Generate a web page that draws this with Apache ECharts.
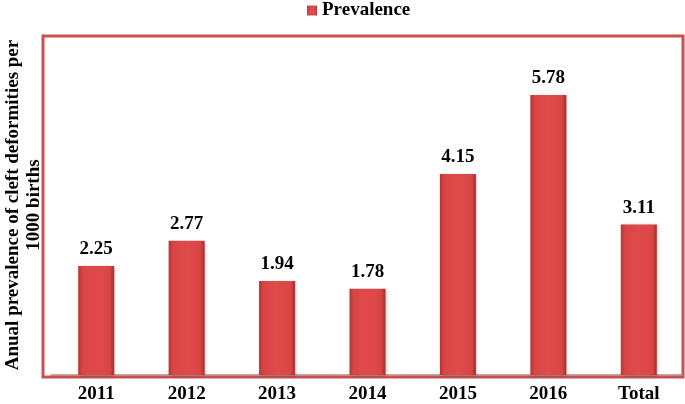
<!DOCTYPE html>
<html><head><meta charset="utf-8">
<script src="https://cdn.jsdelivr.net/npm/echarts@6/dist/echarts.min.js"></script>
<style>html,body{margin:0;padding:0;background:#fff}#c{width:685px;height:404px}</style>
</head><body><div id="c"></div>
<script>
const categories = ['2011','2012','2013','2014','2015','2016','Total'];
const prevalence = [2.25, 2.77, 1.94, 1.78, 4.15, 5.78, 3.11];
const seriesName = 'Prevalence';
const yAxisTitle = 'Anual prevalence of cleft deformities per\n1000 births';

const font = '"Liberation Serif", "Times New Roman", serif';
const chart = echarts.init(document.getElementById('c'), null, {renderer: 'canvas'});
const barColor = new echarts.graphic.LinearGradient(0, 0, 1, 0, [
  {offset: 0, color: '#b83334'},
  {offset: 0.12, color: '#d94545'},
  {offset: 0.5, color: '#e04a4a'},
  {offset: 0.88, color: '#d94545'},
  {offset: 1, color: '#a82c2d'}
]);
chart.setOption({
  animation: false,
  textStyle: {fontFamily: font},
  legend: {
    top: -4, left: 302,
    itemWidth: 10, itemHeight: 10,
    itemGap: 5,
    data: [{name: seriesName, icon: 'rect'}],
    textStyle: {fontFamily: font, fontWeight: 'bold', fontSize: 19, color: '#000'}
  },
  graphic: [{
    type: 'rect', shape: {x: 43, y: 36, width: 640, height: 341},
    style: {fill: 'none', stroke: '#c9504f', lineWidth: 3}, z: 0
  }, {
    type: 'text', x: 24, y: 205, rotation: Math.PI / 2,
    style: {text: yAxisTitle, font: 'bold 19px ' + font, fill: '#000', align: 'center', verticalAlign: 'middle', lineHeight: 21}
  }],
  grid: {left: 51, right: 1, top: 36, bottom: 29, containLabel: false, outerBoundsMode: 'none'},
  xAxis: {
    type: 'category', data: categories,
    axisTick: {show: false},
    axisLine: {lineStyle: {color: '#b08585', width: 1.5}},
    axisLabel: {fontFamily: font, fontWeight: 'bold', fontSize: 19, color: '#000', margin: 10}
  },
  yAxis: {
    type: 'value', min: 0, max: 7,
    splitLine: {show: false}, axisLabel: {show: false}, axisTick: {show: false}, axisLine: {show: false}
  },
  series: [{
    name: seriesName, type: 'bar', data: prevalence, barWidth: 36,
    itemStyle: {color: barColor, shadowColor: 'rgba(0,0,0,0.25)', shadowBlur: 3, shadowOffsetX: 1, shadowOffsetY: 1},
    label: {show: true, position: 'top', distance: 7, fontFamily: font, fontWeight: 'bold', fontSize: 19, color: '#000',
      formatter: p => p.value.toFixed(2)}
  }]
});
</script></body></html>
